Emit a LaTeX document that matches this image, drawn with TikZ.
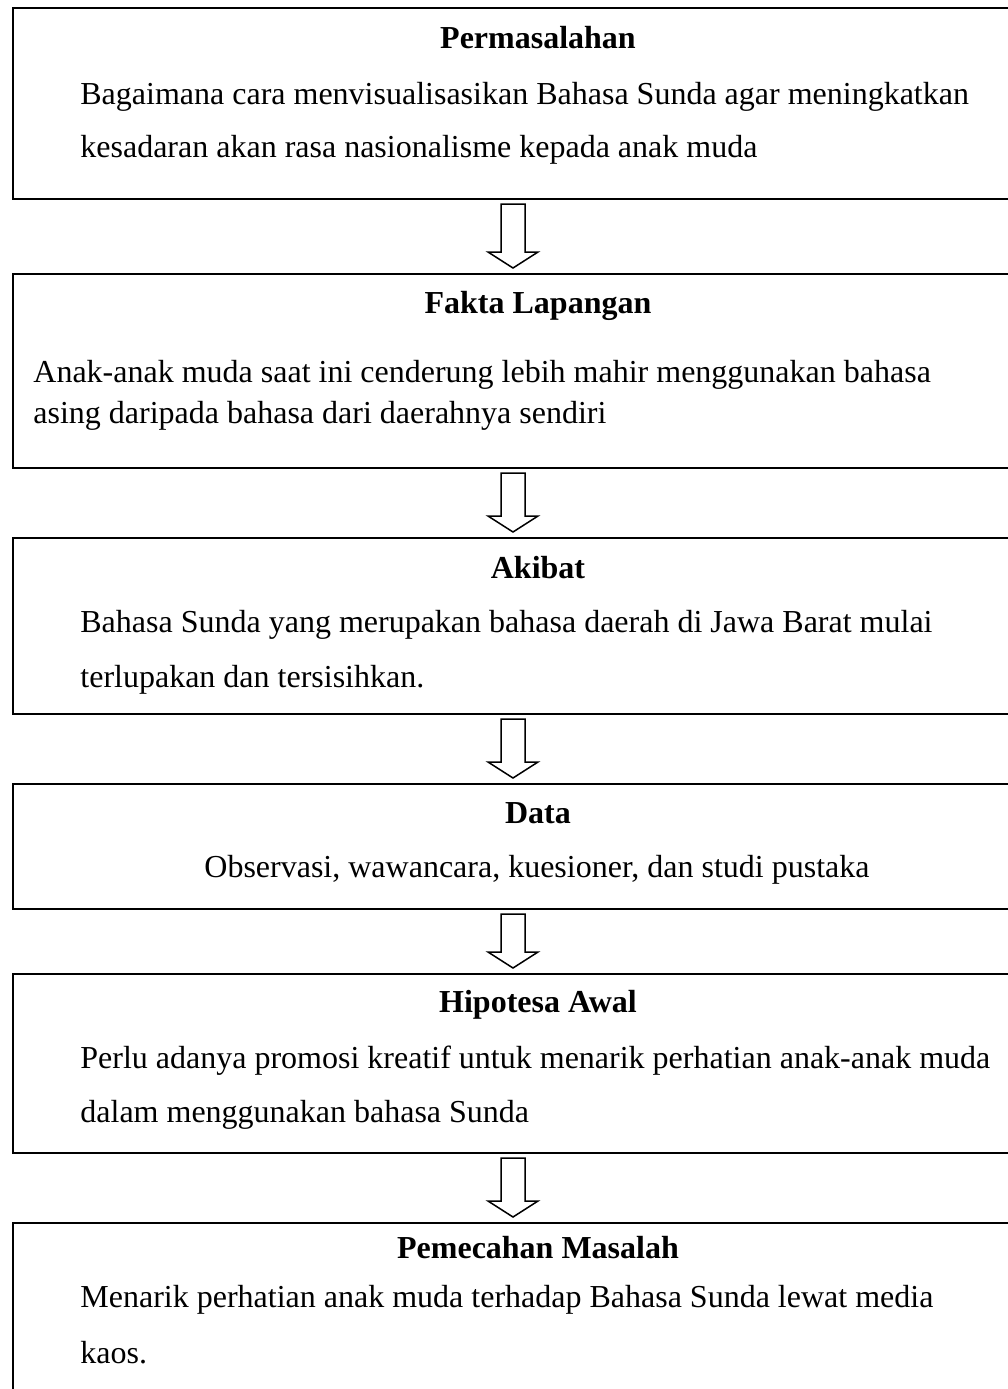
\documentclass[tikz,border=0pt]{standalone}
\usepackage{fontspec}
\setmainfont{Liberation Serif}
\usepackage{tikz}
\usetikzlibrary{calc}

\tikzset{
  kotak/.style={draw,line width=1pt,rectangle,anchor=north west,inner sep=0pt,minimum width=509pt},
  judul/.style={font=\fontsize{16}{19}\selectfont\bfseries,inner sep=0pt,anchor=base},
  isi/.style={font=\fontsize{16}{19}\selectfont,inner sep=0pt,anchor=base west},
  panah/.style={draw,line width=0.75pt,fill=white,line join=miter}
}
% panah blok dari kotak #1 ke kotak #2
\newcommand{\panahblok}[2]{%
  \draw[panah] let \p1=(sumbu |- #1.south), \p2=(sumbu |- #2.north) in
    (\x1-6pt,\y1-2pt) -- (\x1+6pt,\y1-2pt) -- (\x1+6pt,\y2+10.5pt) -- (\x1+12.5pt,\y2+10.5pt)
    -- (\x1,\y2+2.5pt) -- (\x1-12.5pt,\y2+10.5pt) -- (\x1-6pt,\y2+10.5pt) -- cycle;}

\begin{document}
\begin{tikzpicture}[x=0.5pt,y=-0.5pt]
\useasboundingbox (0,0) rectangle (1008,1389);
\clip (0,0) rectangle (1008,1389);
\coordinate (sumbu) at (513,0);
\foreach \nama/\atas/\tinggi in {p1/7/95.5pt, p2/273/97pt, p3/537/88pt, p4/783/62.5pt, p5/973/89.5pt, p6/1222/99pt}{
  \node[kotak,minimum height=\tinggi] (\nama) at (12,\atas) {};
}
\foreach \nama/\y/\teks in {j1/48/Permasalahan, j2/313/Fakta Lapangan, j3/578/Akibat, j4/823/Data, j5/1012/Hipotesa Awal, j6/1258/Pemecahan Masalah}{
  \node[judul] (\nama) at (538,\y) {\teks};
}
\node[isi] (i1a) at (80,104) {Bagaimana cara menvisualisasikan Bahasa Sunda agar meningkatkan};
\node[isi] (i1b) at (80,157) {kesadaran akan rasa nasionalisme kepada anak muda};
\node[isi] (i2a) at (33,382) {Anak-anak muda saat ini cenderung lebih mahir menggunakan bahasa};
\node[isi] (i2b) at (33,423) {asing daripada bahasa dari daerahnya sendiri};
\node[isi] (i3a) at (80,632) {Bahasa Sunda yang merupakan bahasa daerah di Jawa Barat mulai};
\node[isi] (i3b) at (80,687) {terlupakan dan tersisihkan.};
\node[isi,anchor=base] (i4a) at (537,877) {Observasi, wawancara, kuesioner, dan studi pustaka};
\node[isi] (i5a) at (80,1068) {Perlu adanya promosi kreatif untuk menarik perhatian anak-anak muda};
\node[isi] (i5b) at (80,1122) {dalam menggunakan bahasa Sunda};
\node[isi] (i6a) at (80,1307) {Menarik perhatian anak muda terhadap Bahasa Sunda lewat media};
\node[isi] (i6b) at (80,1363) {kaos.};
\panahblok{p1}{p2}
\panahblok{p2}{p3}
\panahblok{p3}{p4}
\panahblok{p4}{p5}
\panahblok{p5}{p6}
\end{tikzpicture}
\end{document}
